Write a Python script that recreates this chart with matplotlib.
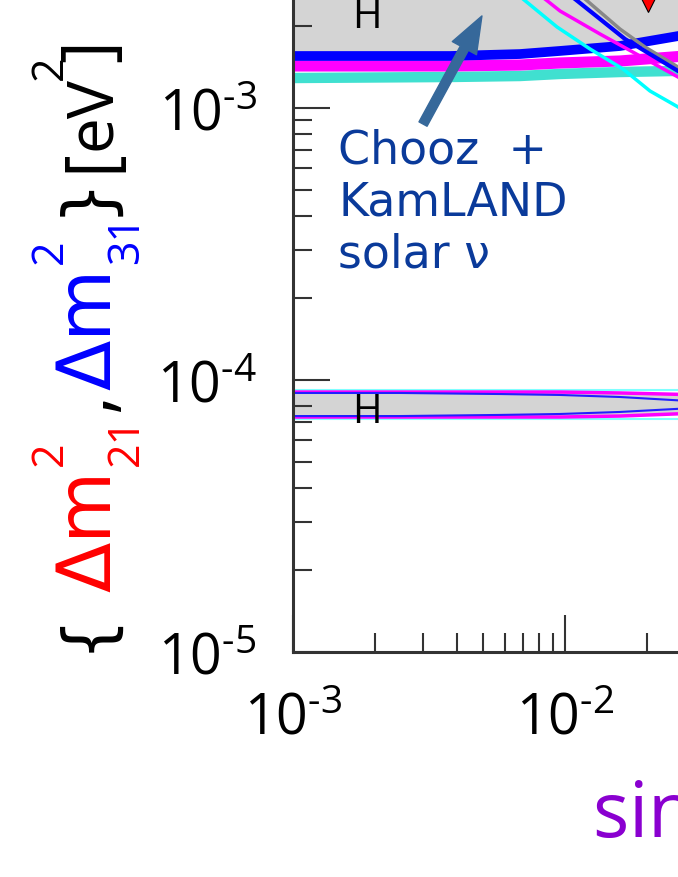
import matplotlib
matplotlib.use('Agg')
import matplotlib.pyplot as plt
import numpy as np
from matplotlib.ticker import LogLocator, NullFormatter

plt.rcParams['font.family'] = 'Open Sans'
plt.rcParams['mathtext.fontset'] = 'custom'
plt.rcParams['mathtext.rm'] = 'Open Sans'
plt.rcParams['mathtext.it'] = 'Open Sans'
plt.rcParams['mathtext.default'] = 'regular'
plt.rcParams['axes.unicode_minus'] = False

# horizontal bands (upper, atmospheric region)
band_x = [1e-3, 3.78e-3, 6.83e-3, 9.59e-3, 1.593e-2, 2.7e-2]
blue_band = [1.553e-3, 1.553e-3, 1.579e-3, 1.621e-3, 1.690e-3, 1.85e-3]
magenta_band = [1.427e-3, 1.427e-3, 1.439e-3, 1.464e-3, 1.489e-3, 1.55e-3]
turq_band = [1.289e-3, 1.300e-3, 1.311e-3, 1.334e-3, 1.356e-3, 1.37e-3]

# lower (solar) band
low_x = [1e-3, 2.47e-3, 5.77e-3, 9.59e-3, 1.593e-2, 2.7e-2]
low_mag_top = [9.03e-5, 9.03e-5, 9.03e-5, 9.03e-5, 8.96e-5, 8.85e-5]
low_mag_bot = [7.31e-5, 7.31e-5, 7.31e-5, 7.31e-5, 7.37e-5, 7.52e-5]
low_blue_top = [8.96e-5, 8.96e-5, 8.88e-5, 8.81e-5, 8.66e-5, 8.40e-5]
low_blue_bot = [7.37e-5, 7.37e-5, 7.44e-5, 7.50e-5, 7.63e-5, 7.85e-5]
low_cyan_top = [9.19e-5] * 6
low_cyan_bot = [7.19e-5] * 6

# contour curves in the upper right
cyan_x = [6.02e-3, 7.01e-3, 9.35e-3, 1.236e-2, 1.634e-2, 2.053e-2, 2.603e-2, 2.75e-2]
cyan_y = [2.857e-3, 2.516e-3, 1.985e-3, 1.648e-3, 1.391e-3, 1.155e-3, 1.009e-3, 0.97e-3]
mag_x = [7.43e-3, 8.44e-3, 9.59e-3, 1.345e-2, 1.887e-2, 2.603e-2, 2.75e-2]
mag_y = [2.738e-3, 2.516e-3, 2.273e-3, 1.871e-3, 1.553e-3, 1.300e-3, 1.26e-3]
blue_x = [9.59e-3, 1.088e-2, 1.345e-2, 1.662e-2, 2.053e-2, 2.603e-2, 2.75e-2]
blue_y = [2.738e-3, 2.516e-3, 2.124e-3, 1.793e-3, 1.579e-3, 1.368e-3, 1.33e-3]
gray_x = [1.043e-2, 1.185e-2, 1.593e-2, 1.968e-2, 2.603e-2, 2.75e-2]
gray_y = [2.738e-3, 2.516e-3, 1.951e-3, 1.676e-3, 1.415e-3, 1.37e-3]

best_fit = (2.018e-2, 2.43e-3)

xticks = [1e-3, 1e-2]
xtick_labels = [r'$10^{\text{-}3}$', r'$10^{\text{-}2}$']
yticks = [1e-5, 1e-4, 1e-3]
ytick_labels = [r'$10^{\text{-}5}$', r'$10^{\text{-}4}$', r'$10^{\text{-}3}$']

W, H = 678, 878
fig = plt.figure(figsize=(W / 100, H / 100), dpi=100)
ax = fig.add_axes([293 / W, (H - 653) / H, (W - 293) / W, 653 / H])
ax.set_xscale('log')
ax.set_yscale('log')
ax.set_xlim(1e-3, 10 ** (-3 + 385 / 272))
ax.set_ylim(1e-5, 10 ** (-3 + 109 / 272))

gray = '#d4d4d4'
ax.fill_between(band_x, blue_band, 1.0, color=gray, lw=0)
ax.fill_between(low_x, low_mag_bot, low_mag_top, color=gray, lw=0)

ax.plot(band_x, turq_band, color='#40e0d0', lw=7.5, solid_capstyle='butt')
ax.plot(band_x, magenta_band, color='#ff00ff', lw=8, solid_capstyle='butt')
ax.plot(band_x, blue_band, color='#0000ff', lw=7, solid_capstyle='butt')

ax.plot(low_x, low_cyan_top, color='#7fffff', lw=1.5)
ax.plot(low_x, low_cyan_bot, color='#7fffff', lw=1.5)
ax.plot(low_x, low_mag_top, color='#ff00ff', lw=2.5)
ax.plot(low_x, low_mag_bot, color='#ff00ff', lw=2.5)
ax.plot(low_x, low_blue_top, color='#2020ff', lw=1.5)
ax.plot(low_x, low_blue_bot, color='#2020ff', lw=1.5)

ax.plot(cyan_x, cyan_y, color='#00ffff', lw=2.5)
ax.plot(mag_x, mag_y, color='#ff00ff', lw=2.5)
ax.plot(gray_x, gray_y, color='#888888', lw=2.5)
ax.plot(blue_x, blue_y, color='#0000ff', lw=3)
ax.plot(*best_fit, marker='v', color='red', ms=13, mec='black', mew=0.8)

ax.text(1.871e-3, 1.99e-3, 'H', ha='center', va='baseline', fontsize=29)
ax.text(1.871e-3, 7.01e-5, 'H', ha='center', va='baseline', fontsize=29)

ax.text(1.464e-3, 8.45e-4, 'Chooz  +\nKamLAND\nsolar \u03bd', color='#0a3a9a',
        fontsize=33, family='DejaVu Sans', ha='left', va='top', linespacing=1.2)
ax.annotate('', xy=(4.95e-3, 2.18e-3), xytext=(3.006e-3, 8.73e-4),
            arrowprops=dict(arrowstyle='simple,head_length=1.2,head_width=0.9,tail_width=0.3',
                            color='#36689a', shrinkA=0, shrinkB=0, mutation_scale=22))

for side in ['top', 'right']:
    ax.spines[side].set_visible(False)
for side in ['left', 'bottom']:
    ax.spines[side].set_linewidth(2.2)
    ax.spines[side].set_color('#333333')

ax.set_xticks(xticks, xtick_labels)
ax.set_yticks(yticks, ytick_labels)
ax.xaxis.set_minor_locator(LogLocator(base=10, subs=np.arange(2, 10), numticks=20))
ax.yaxis.set_minor_locator(LogLocator(base=10, subs=np.arange(2, 10), numticks=20))
ax.xaxis.set_minor_formatter(NullFormatter())
ax.yaxis.set_minor_formatter(NullFormatter())
ax.tick_params(which='major', direction='in', length=26.5, width=1.5, color='#333333', labelsize=40)
ax.tick_params(which='minor', direction='in', length=13.5, width=1.5, color='#333333')
ax.tick_params(axis='x', which='major', pad=28)
ax.tick_params(axis='y', which='major', pad=26)
ax.tick_params(top=False, right=False, which='both')

# x label, cut by the right edge
fig.text(592 / W, (H - 838) / H, 'sin$^{2}$2\u03b8$_{13}$', color='#8a00d0',
         fontsize=55, ha='left', va='baseline')

# multi-coloured rotated y label:
# (text, colour, font, size, baseline x px, start y px from top)
ylabel_pieces = [
    ('{', 'black', 'DejaVu Sans', 48, 104, 652),
    ('\u0394m', 'red', 'DejaVu Sans', 53, 110, 592),
    ('2', 'red', 'Open Sans', 31, 62, 466),
    ('21', 'red', 'Open Sans', 31, 138, 466),
    (',', 'black', 'Open Sans', 53, 110, 412),
    ('\u0394m', 'blue', 'DejaVu Sans', 53, 110, 390),
    ('2', 'blue', 'Open Sans', 31, 62, 264),
    ('31', 'blue', 'Open Sans', 31, 138, 264),
    ('}', 'black', 'DejaVu Sans', 48, 104, 216),
    ('[', 'black', 'Open Sans', 50, 110, 172),
    ('eV', 'black', 'Open Sans', 46, 110, 150),
    ('2', 'black', 'Open Sans', 31, 62, 80),
    (']', 'black', 'Open Sans', 50, 110, 62),
]
for s, c, fam, fs, bx, sy in ylabel_pieces:
    fig.text(bx / W, (H - sy) / H, s, color=c, family=fam, fontsize=fs, rotation=90,
             rotation_mode='anchor', ha='left', va='baseline')

fig.savefig('out.png', dpi=100)
